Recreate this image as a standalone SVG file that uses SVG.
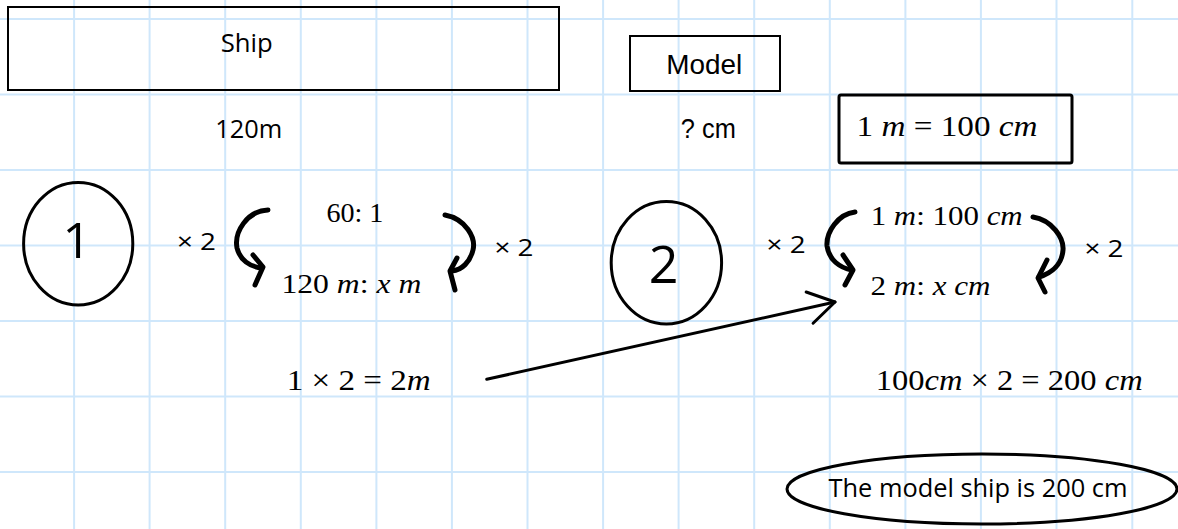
<svg xmlns="http://www.w3.org/2000/svg" width="1178" height="529" viewBox="0 0 1178 529">
<style>
.grid line{stroke:#cfe7fb;stroke-width:2}
.box{fill:none;stroke:#000;stroke-width:2}
.thick{fill:none;stroke:#000;stroke-width:3}
.sans{font-family:"Open Sans","Noto Sans",sans-serif;fill:#000}
.arial{font-family:"Liberation Sans",Arial,sans-serif;fill:#000}
.math{font-family:"Liberation Serif","Times New Roman",serif;fill:#000}
.v{font-style:italic}
.factor{font-family:"Open Sans","Noto Sans",sans-serif;font-size:23px;fill:#000}
.curve{fill:none;stroke:#000;stroke-width:5;stroke-linecap:round;stroke-linejoin:round}
.link{fill:none;stroke:#000;stroke-width:3;stroke-linecap:round}
</style>
<defs>
<marker id="openhead" markerUnits="userSpaceOnUse" viewBox="0 0 32 44" refX="29" refY="22" markerWidth="32" markerHeight="44" orient="auto">
<path d="M3,6 L29,22 L3,38" fill="none" stroke="#000" stroke-width="3" stroke-linecap="round" stroke-linejoin="round"/>
</marker>
</defs>
<rect width="1178" height="529" fill="#fff"/>
<g class="grid" id="grid">
<line x1="74.1" y1="0" x2="74.1" y2="529"/>
<line x1="149.6" y1="0" x2="149.6" y2="529"/>
<line x1="225.2" y1="0" x2="225.2" y2="529"/>
<line x1="300.8" y1="0" x2="300.8" y2="529"/>
<line x1="376.4" y1="0" x2="376.4" y2="529"/>
<line x1="451.9" y1="0" x2="451.9" y2="529"/>
<line x1="527.5" y1="0" x2="527.5" y2="529"/>
<line x1="603.1" y1="0" x2="603.1" y2="529"/>
<line x1="678.6" y1="0" x2="678.6" y2="529"/>
<line x1="754.2" y1="0" x2="754.2" y2="529"/>
<line x1="829.8" y1="0" x2="829.8" y2="529"/>
<line x1="905.4" y1="0" x2="905.4" y2="529"/>
<line x1="980.9" y1="0" x2="980.9" y2="529"/>
<line x1="1056.5" y1="0" x2="1056.5" y2="529"/>
<line x1="1132.3" y1="0" x2="1132.3" y2="529"/>
<line x1="0" y1="19" x2="1178" y2="19"/>
<line x1="0" y1="94.5" x2="1178" y2="94.5"/>
<line x1="0" y1="170" x2="1178" y2="170"/>
<line x1="0" y1="245.5" x2="1178" y2="245.5"/>
<line x1="0" y1="321" x2="1178" y2="321"/>
<line x1="0" y1="396.5" x2="1178" y2="396.5"/>
<line x1="0" y1="472" x2="1178" y2="472"/>
</g>
<g id="ship">
<rect class="box" x="8" y="7" width="551" height="83"/>
<text class="sans" x="246.7" y="52" font-size="26" text-anchor="middle" textLength="52" lengthAdjust="spacingAndGlyphs">Ship</text>
</g>
<g id="ship-length">
<text class="sans" x="248.8" y="138" font-size="26" text-anchor="middle" textLength="67" lengthAdjust="spacingAndGlyphs">120m</text>
</g>
<g id="model">
<rect class="box" x="630" y="36" width="150" height="55"/>
<text class="arial" x="704.2" y="74" font-size="28" text-anchor="middle" textLength="76" lengthAdjust="spacingAndGlyphs">Model</text>
</g>
<g id="model-length">
<text class="arial" x="708.3" y="138" font-size="27" text-anchor="middle" textLength="55" lengthAdjust="spacingAndGlyphs">? cm</text>
</g>
<g id="conversion">
<rect class="thick" x="839" y="95" width="233" height="68" rx="2"/>
<text class="math" x="947" y="136" font-size="29" text-anchor="middle" textLength="181" lengthAdjust="spacingAndGlyphs">1 <tspan class="v">m</tspan> = 100 <tspan class="v">cm</tspan></text>
</g>
<g id="step1">
<ellipse class="thick" cx="78.2" cy="243.7" rx="54.6" ry="61.3"/>
<text class="sans" x="76.8" y="258.3" font-size="50" text-anchor="middle">1</text>
</g>
<g id="step1-left-factor">
<text class="factor" x="196.4" y="250" text-anchor="middle" textLength="39" lengthAdjust="spacingAndGlyphs">× 2</text>
</g>
<g id="step1-ratio-top">
<text class="math" x="354.9" y="222.3" font-size="27" text-anchor="middle" textLength="57" lengthAdjust="spacingAndGlyphs">60: 1</text>
</g>
<g id="step1-ratio-bottom">
<text class="math" x="351.4" y="293.3" font-size="27" text-anchor="middle" textLength="140" lengthAdjust="spacingAndGlyphs">120 <tspan class="v">m</tspan>: <tspan class="v">x</tspan> <tspan class="v">m</tspan></text>
</g>
<g id="step1-right-factor">
<text class="factor" x="513.9" y="256" text-anchor="middle" textLength="39" lengthAdjust="spacingAndGlyphs">× 2</text>
</g>
<g id="step1-calc">
<text class="math" x="358.7" y="390" font-size="29" text-anchor="middle" textLength="144" lengthAdjust="spacingAndGlyphs">1 × 2 = 2<tspan class="v">m</tspan></text>
</g>
<g id="step2">
<ellipse class="thick" cx="666.4" cy="262.8" rx="55.2" ry="61.2"/>
<text class="sans" x="663.5" y="282.7" font-size="52" text-anchor="middle">2</text>
</g>
<g id="step2-left-factor">
<text class="factor" x="786.1" y="253.3" text-anchor="middle" textLength="39" lengthAdjust="spacingAndGlyphs">× 2</text>
</g>
<g id="step2-ratio-top">
<text class="math" x="946.7" y="225" font-size="27" text-anchor="middle" textLength="152" lengthAdjust="spacingAndGlyphs">1 <tspan class="v">m</tspan>: 100 <tspan class="v">cm</tspan></text>
</g>
<g id="step2-ratio-bottom">
<text class="math" x="930.5" y="295" font-size="27" text-anchor="middle" textLength="120" lengthAdjust="spacingAndGlyphs">2 <tspan class="v">m</tspan>: <tspan class="v">x</tspan> <tspan class="v">cm</tspan></text>
</g>
<g id="step2-right-factor">
<text class="factor" x="1104" y="257.3" text-anchor="middle" textLength="39" lengthAdjust="spacingAndGlyphs">× 2</text>
</g>
<g id="step2-calc">
<text class="math" x="1009.2" y="390" font-size="29" text-anchor="middle" textLength="267" lengthAdjust="spacingAndGlyphs">100<tspan class="v">cm</tspan> × 2 = 200 <tspan class="v">cm</tspan></text>
</g>
<g id="answer">
<ellipse class="thick" cx="982" cy="489" rx="195" ry="35"/>
<text class="sans" x="978" y="496.7" font-size="26" text-anchor="middle" textLength="299" lengthAdjust="spacingAndGlyphs">The model ship is 200 cm</text>
</g>
<g id="connectors">
<path class="curve" d="M268,210 C247,211 234,232 237,248 C240,260 250,267 262,268"/>
<path class="curve" d="M253,255 L263,267 L255,285"/>
<path class="curve" d="M445,215 C466,219 476,238 473,250 C470,262 462,270 452,271"/>
<path class="curve" d="M457,258 L450,271 L455,290"/>
<path class="curve" d="M855,212 C838,214 826,232 827,246 C829,260 840,268 852,270"/>
<path class="curve" d="M843,255 L853,270 L845,285"/>
<path class="curve" d="M1033,217 C1052,220 1064,238 1063,250 C1062,264 1052,273 1039,277"/>
<path class="curve" d="M1047,260 L1038,278 L1045,292"/>
<line class="link" x1="486.7" y1="379.3" x2="835" y2="302" marker-end="url(#openhead)"/>
</g>
</svg>
